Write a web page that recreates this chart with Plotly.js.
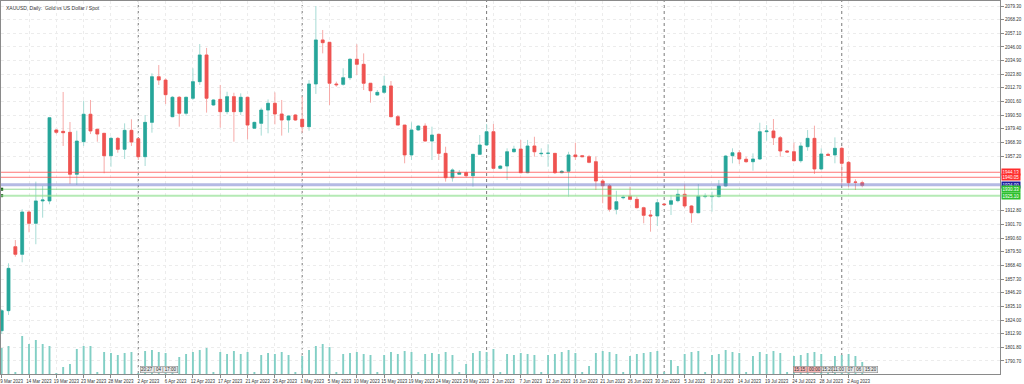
<!DOCTYPE html>
<html><head><meta charset="utf-8">
<script src="https://cdn.plot.ly/plotly-3.0.1.min.js"></script>
<style>html,body{margin:0;padding:0;background:#fff}#chart{width:1024px;height:384px}</style>
</head><body><div id="chart"></div>
<script>
const dates = [
'2023-03-09','2023-03-10','2023-03-12','2023-03-13','2023-03-14','2023-03-15','2023-03-16','2023-03-17','2023-03-19','2023-03-20',
'2023-03-21','2023-03-22','2023-03-23','2023-03-24','2023-03-26','2023-03-27','2023-03-28','2023-03-29','2023-03-30','2023-03-31',
'2023-04-02','2023-04-03','2023-04-04','2023-04-05','2023-04-06','2023-04-09','2023-04-10','2023-04-11','2023-04-12','2023-04-13',
'2023-04-14','2023-04-16','2023-04-17','2023-04-18','2023-04-19','2023-04-20','2023-04-21','2023-04-23','2023-04-24','2023-04-25',
'2023-04-26','2023-04-27','2023-04-28','2023-04-30','2023-05-01','2023-05-02','2023-05-03','2023-05-04','2023-05-05','2023-05-07',
'2023-05-08','2023-05-09','2023-05-10','2023-05-11','2023-05-12','2023-05-14','2023-05-15','2023-05-16','2023-05-17','2023-05-18',
'2023-05-19','2023-05-21','2023-05-22','2023-05-23','2023-05-24','2023-05-25','2023-05-26','2023-05-28','2023-05-29','2023-05-30',
'2023-05-31','2023-06-01','2023-06-02','2023-06-04','2023-06-05','2023-06-06','2023-06-07','2023-06-08','2023-06-09','2023-06-11',
'2023-06-12','2023-06-13','2023-06-14','2023-06-15','2023-06-16','2023-06-18','2023-06-19','2023-06-20','2023-06-21','2023-06-22',
'2023-06-23','2023-06-25','2023-06-26','2023-06-27','2023-06-28','2023-06-29','2023-06-30','2023-07-02','2023-07-03','2023-07-04',
'2023-07-05','2023-07-06','2023-07-07','2023-07-09','2023-07-10','2023-07-11','2023-07-12','2023-07-13','2023-07-14','2023-07-16',
'2023-07-17','2023-07-18','2023-07-19','2023-07-20','2023-07-21','2023-07-23','2023-07-24','2023-07-25','2023-07-26','2023-07-27',
'2023-07-28','2023-07-30','2023-07-31','2023-08-01','2023-08-02','2023-08-03','2023-08-04'];

const open = [
1815.3,1831.6,1883.6,1877.4,1911.8,1902.6,1920.8,1920.8,1978.5,1977.4,
1976.6,1942.5,1969.0,1991.3,1979.1,1975.8,1957.6,1971.7,1962.8,1978.2,
1971.4,1956.8,1984.7,2021.8,2019.1,1989.3,2005.1,1992.1,2004.3,2017.8,
2039.5,1998.8,2003.4,1993.4,2005.6,1993.4,2005.1,1979.9,1983.9,1994.7,
2000.2,1991.5,1986.6,1990.7,1987.2,1981.2,2015.9,2051.7,2049.8,2015.9,
2015.6,2021.0,2036.0,2031.9,2016.5,2006.9,2009.1,2014.3,1989.3,1982.5,
1958.2,1978.5,1981.7,1969.5,1975.0,1959.5,1939.7,1942.5,1943.8,1941.3,
1958.7,1966.3,1977.1,1947.3,1949.2,1960.8,1963.0,1943.8,1965.5,1959.2,
1959.5,1959.5,1943.8,1944.9,1958.2,1957.6,1956.8,1952.7,1937.0,1933.2,
1914.0,1923.4,1924.8,1922.1,1915.3,1909.4,1908.6,1918.3,1918.1,1921.0,
1926.2,1916.7,1911.2,1924.3,1924.3,1924.3,1933.0,1957.6,1960.0,1954.7,
1952.7,1954.9,1977.1,1977.7,1972.2,1961.4,1960.8,1953.5,1964.9,1971.7,
1946.8,1958.7,1958.2,1963.6,1952.2,1936.2,1935.6];
const high = [
1832.9,1870.1,1889.0,1914.0,1913.4,1936.5,1933.0,1989.1,1979.3,2009.4,
1985.0,1977.9,2002.3,2002.9,1979.3,1976.0,1973.0,1972.8,1983.9,1987.2,
1971.6,1990.7,2024.6,2031.3,2020.5,2006.1,2006.1,2005.6,2028.7,2048.4,
2045.2,2003.7,2015.1,2009.6,2008.8,2008.3,2005.6,1985.2,1996.6,2003.4,
2009.1,2002.9,1990.7,1991.5,2005.6,2019.1,2079.3,2059.8,2049.8,2017.8,
2028.7,2036.8,2048.2,2040.8,2016.5,2011.0,2022.4,2018.3,1990.7,1982.5,
1984.7,1982.5,1983.9,1981.2,1975.0,1964.9,1947.3,1946.0,1944.6,1958.7,
1974.4,1983.4,1983.4,1950.0,1963.6,1965.7,1970.4,1970.4,1973.0,1963.6,
1966.9,1959.6,1946.0,1960.8,1968.2,1958.2,1958.2,1956.8,1938.6,1934.6,
1929.1,1925.6,1932.4,1924.3,1916.1,1913.4,1922.4,1918.8,1925.6,1930.3,
1934.3,1917.5,1934.6,1927.0,1928.3,1937.8,1958.2,1963.6,1962.2,1956.8,
1959.5,1984.4,1982.5,1987.4,1973.6,1962.2,1968.2,1968.2,1978.5,1982.0,
1963.6,1960.0,1972.5,1964.9,1953.3,1938.4,1937.3];
const low = [
1812.6,1828.1,1875.5,1870.9,1895.3,1885.6,1907.2,1918.1,1975.2,1965.5,
1934.6,1933.8,1965.5,1975.2,1969.0,1943.3,1948.6,1960.0,1954.9,1965.5,
1954.1,1949.2,1976.3,2015.1,1999.6,1988.8,1981.2,1990.1,2002.9,2015.1,
1992.6,1998.0,1980.4,1991.3,1969.0,1990.7,1970.9,1979.6,1973.9,1975.8,
1983.1,1973.9,1976.3,1985.8,1976.3,1977.9,2007.8,2040.8,1998.8,2013.7,
2014.5,2019.1,2023.2,2011.0,2000.7,2006.4,2007.8,1988.8,1982.5,1951.4,
1954.1,1977.9,1969.0,1954.1,1954.1,1936.5,1936.5,1941.9,1940.5,1932.4,
1958.2,1965.5,1946.5,1946.5,1937.8,1960.3,1943.3,1943.3,1956.8,1956.8,
1948.6,1942.7,1943.3,1924.3,1954.1,1956.5,1951.4,1929.7,1918.9,1912.1,
1909.9,1922.1,1921.6,1914.8,1902.6,1895.8,1900.4,1917.3,1909.4,1919.7,
1914.8,1903.1,1910.8,1922.9,1912.1,1923.8,1932.4,1951.4,1950.8,1951.9,
1945.4,1954.1,1969.8,1966.3,1956.8,1960.0,1953.0,1951.9,1961.6,1942.7,
1946.0,1957.3,1951.4,1933.8,1931.9,1929.7,1931.9];
const close = [
1831.6,1866.0,1877.4,1911.8,1902.6,1920.8,1921.6,1988.5,1976.6,1976.3,
1942.5,1969.5,1991.3,1977.7,1975.2,1957.6,1971.7,1962.8,1978.2,1968.7,
1956.8,1984.7,2021.8,2019.1,2007.2,2005.1,1992.1,2005.1,2017.8,2039.5,
2004.3,2002.9,1993.4,2005.6,1993.4,2005.1,1982.5,1984.7,1994.7,2000.2,
1991.5,1986.6,1989.9,1986.6,1981.2,2015.9,2051.7,2049.5,2016.5,2015.3,
2021.0,2036.0,2031.9,2016.5,2010.4,2009.1,2014.3,1989.3,1982.5,1958.2,
1978.5,1981.7,1969.5,1974.4,1959.5,1939.7,1946.0,1943.8,1941.3,1958.7,
1966.3,1977.1,1947.3,1949.2,1960.8,1963.0,1943.8,1965.5,1960.8,1959.5,
1959.6,1943.8,1944.9,1958.2,1956.8,1956.8,1952.2,1937.0,1933.2,1914.0,
1920.2,1923.8,1922.1,1915.3,1909.1,1908.6,1919.4,1917.8,1921.0,1926.2,
1916.7,1911.2,1924.8,1924.8,1924.8,1933.0,1957.3,1960.0,1954.9,1952.7,
1954.9,1977.1,1977.7,1972.2,1961.4,1960.6,1953.5,1965.5,1971.7,1946.8,
1959.0,1957.9,1963.6,1951.4,1935.6,1936.0,1933.5];
const volume = [
26000,28000,2000,38000,30000,34000,30000,28000,1000,7000,
10000,25000,28000,28000,2000,22000,21000,19000,21000,22000,
1000,23000,24000,22000,21000,2000,17000,20000,22000,24000,
26000,2000,22000,20000,23000,20000,22000,2000,19000,21000,
20000,22000,19000,2000,18000,24000,28000,30000,27000,2000,
20000,21000,22000,20000,19000,2000,19000,22000,20000,23000,
22000,2000,20000,21000,20000,22000,19000,2000,10000,21000,
23000,22000,25000,2000,20000,19000,21000,20000,19000,2000,
19000,20000,22000,24000,21000,2000,8000,21000,23000,22000,
20000,2000,18000,20000,21000,22000,23000,2000,14000,8000,
20000,22000,23000,2000,19000,20000,24000,22000,21000,2000,
18000,22000,20000,23000,21000,2000,18000,19000,21000,22000,
20000,2000,18000,19000,20000,18000,12000];

const tickDates = ['2023-03-09','2023-03-14','2023-03-19','2023-03-23','2023-03-28','2023-04-02','2023-04-06','2023-04-12',
'2023-04-17','2023-04-21','2023-04-26','2023-05-01','2023-05-05','2023-05-10','2023-05-15','2023-05-19','2023-05-24',
'2023-05-29','2023-06-02','2023-06-07','2023-06-12','2023-06-16','2023-06-21','2023-06-26','2023-06-30','2023-07-05',
'2023-07-10','2023-07-14','2023-07-19','2023-07-24','2023-07-28','2023-08-02'];
const tickLabels = ['9 Mar 2023','14 Mar 2023','19 Mar 2023','23 Mar 2023','28 Mar 2023','2 Apr 2023','6 Apr 2023','12 Apr 2023',
'17 Apr 2023','21 Apr 2023','26 Apr 2023','1 May 2023','5 May 2023','10 May 2023','15 May 2023','19 May 2023','24 May 2023',
'29 May 2023','2 Jun 2023','7 Jun 2023','12 Jun 2023','16 Jun 2023','21 Jun 2023','26 Jun 2023','30 Jun 2023','5 Jul 2023',
'10 Jul 2023','14 Jul 2023','19 Jul 2023','24 Jul 2023','28 Jul 2023','2 Aug 2023'];
const priceTicks = [2079.30,2068.20,2057.10,2046.00,2034.90,2023.80,2012.70,2001.60,1990.50,1979.40,1968.30,1957.20,
1912.80,1901.70,1890.60,1879.50,1868.40,1857.30,1846.20,1835.10,1824.00,1812.90,1801.80,1790.70];
const separators = ['2023-04-02','2023-05-01','2023-06-01','2023-07-02','2023-08-01'];
const levelPrices = [1944.13, 1940.05, 1934.00, 1930.33, 1925.10];
const levelColors = ['rgba(255,70,70,0.75)','rgba(255,70,70,0.75)','rgba(120,130,205,0.55)','rgba(90,200,90,0.65)','rgba(150,225,150,0.7)'];
const levelWidths = [1,1,3,1,2];
const levelBoxColors = ['#ff2d2d','#ff2d2d','#1c1c9c','#2dbf2d','#2dbf2d'];
const markerLevels = [1930.33, 1925.10];
const timeBoxDates = ['2023-04-05','2023-07-26','2023-07-30','2023-08-03'];
const timeBoxTexts = ['20:27 | 04 | 17:00','15:15 | 00:00','15:20','11:00 | 07 | 06 | 15:20'];
const timeBoxColors = ['#e8e8e8','#f4b5b5','#e8e8e8','#e8e8e8'];

const bodyHigh = open.map((o,i)=>Math.max(o,close[i]));
const bodyLow = open.map((o,i)=>Math.min(o,close[i]));

const FONT = 'Liberation Sans, Arial, sans-serif';
const traces = [
 {type:'bar', x:dates, y:volume, yaxis:'y2', marker:{color:'#82cfc5'}, width:0.28, hoverinfo:'skip'},
 {type:'candlestick', x:dates, open:open, high:high, low:low, close:close, whiskerwidth:0,
  increasing:{line:{color:'#a7dcd5',width:1}, fillcolor:'#26a69a'},
  decreasing:{line:{color:'#f7aaa8',width:1}, fillcolor:'#ef5350'}},
 {type:'candlestick', x:dates, open:open, high:bodyHigh, low:bodyLow, close:close, whiskerwidth:0,
  increasing:{line:{color:'#26a69a',width:0.6}, fillcolor:'#26a69a'},
  decreasing:{line:{color:'#ef5350',width:0.6}, fillcolor:'#ef5350'}},
 {type:'scatter', mode:'markers', x:markerLevels.map(()=>dates[0]), y:markerLevels, cliponaxis:false,
  marker:{symbol:'square', size:3, color:'#145214'}, hoverinfo:'skip'}
];

const shapes = [];
separators.forEach(d=>shapes.push({type:'line', xref:'x', yref:'paper', x0:d, x1:d, y0:0, y1:1,
  line:{color:'#7a7a7a', width:1, dash:'dot'}, layer:'below'}));
levelPrices.forEach((p,i)=>shapes.push({type:'line', xref:'paper', yref:'y', x0:0, x1:1, y0:p, y1:p,
  line:{color:levelColors[i], width:levelWidths[i]}}));

const annotations = [
 {xref:'paper', yref:'paper', x:0, y:1, xanchor:'left', yanchor:'top', xshift:3, yshift:-2, showarrow:false,
  text:'XAUUSD, Daily:  Gold vs US Dollar / Spot', font:{family:FONT, size:5, color:'#333'}}
];
levelPrices.forEach((p,i)=>annotations.push({xref:'paper', yref:'y', x:1, y:p, xanchor:'left', yanchor:'middle', xshift:1,
  showarrow:false, text:p.toFixed(2), bgcolor:levelBoxColors[i], borderpad:0.5, font:{family:FONT, size:4.5, color:'#fff'}}));
timeBoxDates.forEach((d,i)=>annotations.push({xref:'x', yref:'paper', x:d, y:0, yanchor:'bottom', yshift:1, showarrow:false,
  text:timeBoxTexts[i], bgcolor:timeBoxColors[i], bordercolor:'#8a8a8a', borderwidth:0.6, borderpad:0.5,
  font:{family:FONT, size:4.5, color:'#333'}}));

const layout = {
 width:1024, height:384, margin:{l:1, r:24, t:1, b:10},
 paper_bgcolor:'#fff', plot_bgcolor:'#fff', showlegend:false, boxgap:0.4,
 xaxis:{type:'category', range:[-0.1,146.17], rangeslider:{visible:false}, tickvals:tickDates, ticktext:tickLabels,
   showgrid:true, gridcolor:'#ececec', griddash:'dot', gridwidth:1, showline:true, linecolor:'#8a8a8a', mirror:true,
   ticks:'outside', ticklen:3, tickcolor:'#8a8a8a', tickangle:0, ticklabelshift:10, tickfont:{family:FONT, size:4.5, color:'#333'}, zeroline:false},
 yaxis:{side:'right', range:[1780.1,2083.37], tickvals:priceTicks, ticktext:priceTicks.map(v=>v.toFixed(2)),
   showgrid:true, gridcolor:'#ececec', griddash:'dot', showline:true, linecolor:'#8a8a8a', mirror:true,
   ticks:'outside', ticklen:3, tickcolor:'#8a8a8a', tickfont:{family:FONT, size:4.5, color:'#333'}, zeroline:false},
 yaxis2:{overlaying:'y', range:[0,373000], visible:false, fixedrange:true},
 shapes:shapes, annotations:annotations
};
Plotly.newPlot('chart', traces, layout, {staticPlot:true, displayModeBar:false});
</script></body></html>
